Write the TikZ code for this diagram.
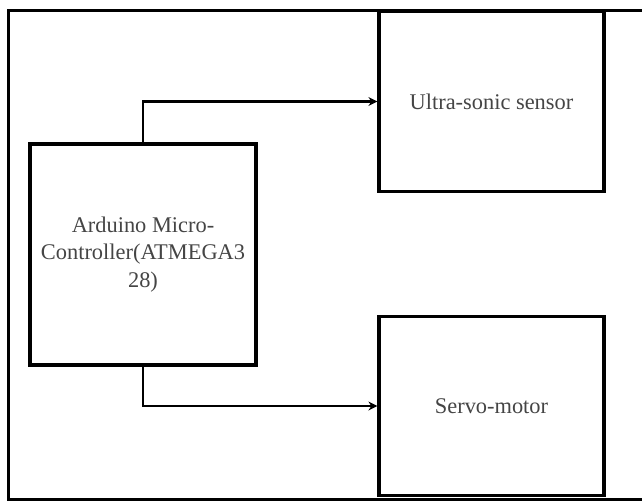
\documentclass[tikz,border=0pt]{standalone}
\usepackage{fontspec}
\setmainfont{Liberation Serif}
\usetikzlibrary{arrows.meta}
\definecolor{txtgray}{HTML}{454545}
\begin{document}
\begin{tikzpicture}[x=1pt,y=-1pt,
  blockbox/.style={draw=black,line width=3.2pt,rectangle,inner sep=0pt,
    text=txtgray,align=center,font=\fontsize{22.4}{27.5}\selectfont},
  conn/.style={draw=black,line width=2.8pt,-{Stealth[length=9pt,width=9pt]}},
  framestyle/.style={draw=black,line width=3pt}]
\useasboundingbox (0,0) rectangle (642,501);
\fill[white] (0,0) rectangle (642,501);
\coordinate (fbl) at (8,499);
\coordinate (ftl) at (8,10);
\coordinate (ftr) at (642,10);
\coordinate (fbr) at (642,499);
\draw[framestyle] (ftr) -- (ftl) -- (fbl) -- (fbr);
\node[blockbox,minimum width=226pt,minimum height=221pt] (ard) at (143,254.5)
  {Arduino Micro-\\Controller(ATMEGA3\\28)};
\node[blockbox,minimum width=225pt,minimum height=180pt] (sen) at (491.5,101.5)
  {Ultra-sonic sensor};
\node[blockbox,minimum width=225pt,minimum height=179pt] (srv) at (491.5,406)
  {Servo-motor};
\draw[conn] (ard.north) |- (sen.west);
\draw[conn] (ard.south) |- (srv.west);
\end{tikzpicture}
\end{document}
